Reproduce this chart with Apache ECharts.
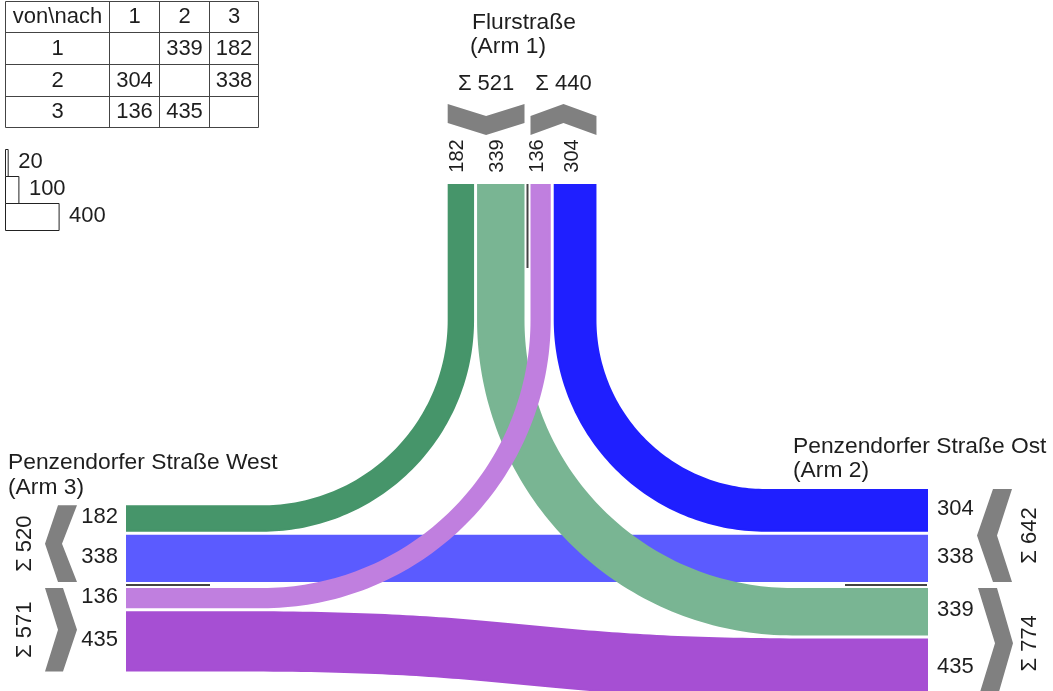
<!DOCTYPE html>
<html><head><meta charset="utf-8">
<script src="https://cdn.jsdelivr.net/npm/echarts@6/dist/echarts.min.js"></script>
<style>html,body{margin:0;padding:0;background:#fff}#c{width:1053px;height:691px}</style>
</head><body><div id="c"></div>
<script>
// ---------------- data ----------------
const armNumbers = [1, 2, 3];
const armTitles = ['Flurstraße', 'Penzendorfer Straße Ost', 'Penzendorfer Straße West'];
const armSubtitles = ['(Arm 1)', '(Arm 2)', '(Arm 3)'];
const flowFrom = [1, 1, 2, 2, 3, 3];
const flowTo = [2, 3, 1, 3, 1, 2];
const flowValues = [339, 182, 304, 338, 136, 435];
const legendValues = [20, 100, 400];
const tableCorner = 'von\\nach';

// ---------------- styles / layout ----------------
const flowColors = ['#79b593', '#46956a', '#1f1fff', '#5b5bff', '#c07fdf', '#a64fd3'];
const drawOrder = [3, 5, 1, 0, 2, 4];
const FONT = "'Liberation Sans', Arial, sans-serif";
const TXT = '#1e1e1e';
const K = 0.134, GAP = 5, SEP_OFF = 4;
const TOP_EDGE = 185, LEFT_EDGE = 127, RIGHT_EDGE = 927, TURN_Y = 320;
const S_LEFT = 243, S_RIGHT = 810;
const arms = {
  1: {side: 'top', sep: 527.5, outDir: -1, outOrder: [2, 3], inDir: 1, inOrder: [3, 2]},
  2: {side: 'right', sep: 585, outDir: -1, outOrder: [3, 1], inDir: 1, inOrder: [1, 3]},
  3: {side: 'left', sep: 585, outDir: 1, outOrder: [1, 2], inDir: -1, inOrder: [2, 1]}
};

function flowIndex(f, t) {
  for (let i = 0; i < flowFrom.length; i++) if (flowFrom[i] === f && flowTo[i] === t) return i;
  return -1;
}
function layoutGroup(arm, kind) {
  const a = arms[arm];
  const d = kind === 'out' ? a.outDir : a.inDir;
  const order = kind === 'out' ? a.outOrder : a.inOrder;
  let cur = a.sep + d * SEP_OFF;
  const slots = [];
  order.forEach(p => {
    const f = kind === 'out' ? arm : p, t = kind === 'out' ? p : arm;
    const i = flowIndex(f, t);
    const v = flowValues[i], w = v * K;
    slots.push({i, v, w, c: cur + d * w / 2, lo: Math.min(cur, cur + d * w), hi: Math.max(cur, cur + d * w)});
    cur += d * (w + GAP);
  });
  return slots;
}
const groups = {};
armNumbers.forEach(a => { groups[a] = {out: layoutGroup(a, 'out'), in: layoutGroup(a, 'in')}; });
function slotOf(arm, i) {
  return groups[arm].out.concat(groups[arm].in).find(s => s.i === i);
}

function centerline(i) {
  let A = {arm: flowFrom[i]}, B = {arm: flowTo[i]};
  A.c = slotOf(A.arm, i).c; B.c = slotOf(B.arm, i).c;
  if (arms[B.arm].side === 'top') { const tmp = A; A = B; B = tmp; }
  const pts = [];
  if (arms[A.arm].side === 'top') {
    const xt = A.c, ys = B.c, R = ys - TURN_Y;
    const s = arms[B.arm].side === 'left' ? -1 : 1;
    const endX = s < 0 ? LEFT_EDGE : RIGHT_EDGE;
    for (let y = TOP_EDGE; y < TURN_Y; y += 10) pts.push([xt, y]);
    const cx = xt + s * R;
    for (let k = 0; k <= 80; k++) {
      const th = k / 80 * Math.PI / 2;
      pts.push([cx - s * R * Math.cos(th), TURN_Y + R * Math.sin(th)]);
    }
    for (let x = cx + s * 10; s < 0 ? x > endX : x < endX; x += s * 10) pts.push([x, ys]);
    pts.push([endX, ys]);
  } else {
    if (arms[A.arm].side === 'right') { const tmp = A; A = B; B = tmp; }
    const yl = A.c, yr = B.c;
    for (let x = LEFT_EDGE; x < S_LEFT; x += 10) pts.push([x, yl]);
    const mx = (S_LEFT + S_RIGHT) / 2;
    const P = [[S_LEFT, yl], [mx, yl], [mx, yr], [S_RIGHT, yr]];
    for (let k = 0; k <= 80; k++) {
      const t = k / 80, u = 1 - t;
      const b0 = u * u * u, b1 = 3 * u * u * t, b2 = 3 * u * t * t, b3 = t * t * t;
      pts.push([b0 * P[0][0] + b1 * P[1][0] + b2 * P[2][0] + b3 * P[3][0],
                b0 * P[0][1] + b1 * P[1][1] + b2 * P[2][1] + b3 * P[3][1]]);
    }
    for (let x = S_RIGHT + 10; x < RIGHT_EDGE; x += 10) pts.push([x, yr]);
    pts.push([RIGHT_EDGE, yr]);
  }
  return pts;
}

function bandPolygon(i) {
  const pts = centerline(i), w = flowValues[i] * K;
  const L = [], Rr = [];
  for (let k = 0; k < pts.length; k++) {
    const p0 = pts[Math.max(0, k - 1)], p1 = pts[Math.min(pts.length - 1, k + 1)];
    let tx = p1[0] - p0[0], ty = p1[1] - p0[1];
    const len = Math.hypot(tx, ty) || 1; tx /= len; ty /= len;
    const nx = -ty, ny = tx;
    L.push([pts[k][0] + nx * w / 2, pts[k][1] + ny * w / 2]);
    Rr.push([pts[k][0] - nx * w / 2, pts[k][1] - ny * w / 2]);
  }
  return L.concat(Rr.reverse());
}

function txt(api, x, y, text, opt) {
  opt = opt || {};
  const p = api.coord([x, y]);
  return {type: 'text', x: p[0], y: p[1], rotation: opt.rot || 0, silent: true,
    style: {text: String(text), fontSize: opt.size || 22, fontFamily: FONT, fill: TXT,
      align: opt.align || 'center', verticalAlign: 'middle'}};
}
function poly(api, pts, style) {
  return {type: 'polygon', silent: true, shape: {points: pts.map(p => api.coord(p))}, style};
}
function line(api, a, b, w) {
  const p = api.coord(a), q = api.coord(b);
  return {type: 'line', silent: true, shape: {x1: p[0], y1: p[1], x2: q[0], y2: q[1]},
    style: {stroke: '#444', lineWidth: w || 1}};
}

function renderBand(params, api) {
  const i = api.value(0);
  return poly(api, bandPolygon(i), {fill: flowColors[i], stroke: flowColors[i], lineWidth: 2});
}

const GRAY = '#808080';
const TITLE = 22.8;
function renderArm(params, api) {
  const arm = api.value(0), a = arms[arm], g = groups[arm];
  const ch = [];
  const ext = s => ({lo: Math.min(...s.map(z => z.lo)) - 1, hi: Math.max(...s.map(z => z.hi)) + 1});
  const sum = s => s.reduce((acc, z) => acc + z.v, 0);
  const eo = ext(g.out), ei = ext(g.in);
  const mo = (eo.lo + eo.hi) / 2, mi = (ei.lo + ei.hi) / 2;
  const all = g.out.concat(g.in);
  if (a.side === 'top') {
    ch.push(poly(api, [[eo.lo, 104], [mo, 116], [eo.hi, 104], [eo.hi, 123], [mo, 135], [eo.lo, 123]], {fill: GRAY}));
    ch.push(poly(api, [[ei.lo, 116], [mi, 104], [ei.hi, 116], [ei.hi, 135], [mi, 123], [ei.lo, 135]], {fill: GRAY}));
    ch.push(txt(api, mo, 84, 'Σ ' + sum(g.out)));
    ch.push(txt(api, mi, 84, 'Σ ' + sum(g.in)));
    all.forEach(s => ch.push(txt(api, s.c - 3, 156, s.v, {rot: Math.PI / 2, size: 20})));
    ch.push(line(api, [a.sep, 184], [a.sep, 268], 2));
    ch.push(txt(api, 472, 23, armTitles[arm - 1], {align: 'left', size: TITLE}));
    ch.push(txt(api, 470, 47, armSubtitles[arm - 1], {align: 'left', size: TITLE}));
  } else if (a.side === 'left') {
    ch.push(poly(api, [[58, ei.lo], [77, ei.lo], [62, mi], [77, ei.hi], [58, ei.hi], [45, mi]], {fill: GRAY}));
    ch.push(poly(api, [[45, eo.lo], [63, eo.lo], [77, mo], [63, eo.hi], [45, eo.hi], [58, mo]], {fill: GRAY}));
    ch.push(txt(api, 25, mi, 'Σ ' + sum(g.in), {rot: Math.PI / 2}));
    ch.push(txt(api, 25, mo, 'Σ ' + sum(g.out), {rot: Math.PI / 2}));
    all.forEach(s => ch.push(txt(api, 118, s.c - 1.5, s.v, {align: 'right'})));
    ch.push(line(api, [126, a.sep], [210, a.sep], 2));
    ch.push(txt(api, 8, 463, armTitles[arm - 1], {align: 'left', size: TITLE}));
    ch.push(txt(api, 8, 488, armSubtitles[arm - 1], {align: 'left', size: TITLE}));
  } else {
    ch.push(poly(api, [[993, eo.lo], [1012, eo.lo], [997, mo], [1012, eo.hi], [993, eo.hi], [977, mo]], {fill: GRAY}));
    ch.push(poly(api, [[978, ei.lo], [997, ei.lo], [1013, mi], [997, ei.hi], [978, ei.hi], [995, mi]], {fill: GRAY}));
    ch.push(txt(api, 1030, mo, 'Σ ' + sum(g.out), {rot: Math.PI / 2}));
    ch.push(txt(api, 1030, mi, 'Σ ' + sum(g.in), {rot: Math.PI / 2}));
    all.forEach(s => ch.push(txt(api, 937, s.c - 1.5, s.v, {align: 'left'})));
    ch.push(line(api, [845, a.sep], [927, a.sep], 2));
    ch.push(txt(api, 793, 447, armTitles[arm - 1], {align: 'left', size: TITLE}));
    ch.push(txt(api, 793, 471, armSubtitles[arm - 1], {align: 'left', size: TITLE}));
  }
  return {type: 'group', children: ch};
}

function renderTable(params, api) {
  const ch = [];
  const colX = [5.5, 109.5, 159.5, 209.5, 258.5], rowY = [1.5, 32.5, 64.5, 96.5, 127.5];
  colX.forEach(x => ch.push(line(api, [x, rowY[0]], [x, rowY[4]], 1)));
  rowY.forEach(y => ch.push(line(api, [colX[0], y], [colX[4], y], 1)));
  const cx = c => (colX[c] + colX[c + 1]) / 2, cy = r => (rowY[r] + rowY[r + 1]) / 2;
  ch.push(txt(api, cx(0), cy(0), tableCorner));
  armNumbers.forEach((n, k) => {
    ch.push(txt(api, cx(k + 1), cy(0), n));
    ch.push(txt(api, cx(0), cy(k + 1), n));
  });
  flowValues.forEach((v, i) => {
    ch.push(txt(api, cx(flowTo[i]), cy(flowFrom[i]), v));
  });
  const rows = [149.5, 176.5, 203.5, 230.5];
  legendValues.forEach((v, k) => {
    const w = v * K;
    ch.push({type: 'rect', silent: true, shape: {x: 5.5, y: rows[k], width: w, height: rows[k + 1] - rows[k]},
      style: {fill: '#fff', stroke: '#222', lineWidth: 1}});
    ch.push(txt(api, 5.5 + w + 10, (rows[k] + rows[k + 1]) / 2 - 1, v, {align: 'left'}));
  });
  return {type: 'group', children: ch};
}

const chart = echarts.init(document.getElementById('c'), null, {renderer: 'canvas'});
chart.setOption({
  animation: false,
  backgroundColor: '#fff',
  grid: {left: 0, right: 0, top: 0, bottom: 0},
  xAxis: {type: 'value', min: 0, max: 1053, show: false},
  yAxis: {type: 'value', min: 0, max: 691, inverse: true, show: false},
  series: [
    {type: 'custom', renderItem: renderBand, data: drawOrder.map(i => [i, 0]), silent: true, z: 2},
    {type: 'custom', renderItem: renderArm, data: armNumbers.map(a => [a, 0]), silent: true, z: 3},
    {type: 'custom', renderItem: renderTable, data: [[0, 0]], silent: true, z: 3}
  ]
});
</script></body></html>
